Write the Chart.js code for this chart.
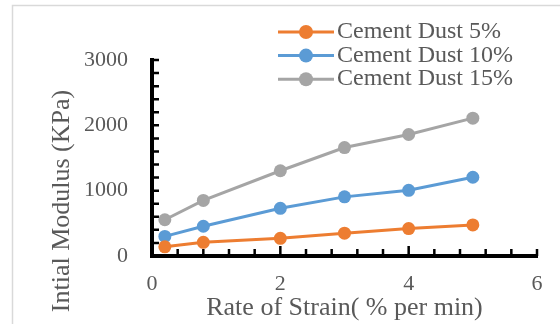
<!DOCTYPE html>
<html>
<head>
<meta charset="utf-8">
<script src="https://cdn.jsdelivr.net/npm/chart.js@4"></script>
<style>
  html, body { margin: 0; padding: 0; background: #fff; }
</style>
</head>
<body>
<canvas id="chart" width="560" height="324"></canvas>
<script>
// --- data ---
const rateOfStrain = [0.2, 0.8, 2, 3, 4, 5];
const dust5 = [140, 210, 270, 350, 420, 475];
const dust10 = [300, 455, 730, 905, 1005, 1205];
const dust15 = [555, 850, 1305, 1660, 1860, 2110];
const seriesNames = ['Cement Dust 5%', 'Cement Dust 10%', 'Cement Dust 15%'];
const seriesColors = ['#ED7D31', '#5B9BD5', '#A5A5A5'];
const xTicks = [0, 2, 4, 6];
const yTicks = [0, 1000, 2000, 3000];
const xMinorStep = 0.4;
const yMinorStep = 200;
const xTitle = 'Rate of Strain( % per min)';
const yTitle = 'Intial Modulus (KPa)';

const FONT = '"Liberation Serif", "Times New Roman", serif';
const TEXT = '#595959';

const toPoints = (ys) => ys.map((y, i) => ({ x: rateOfStrain[i], y }));

// outer light frame
const frame = {
    id: 'frame',
    beforeDraw(chart) {
        const ctx = chart.ctx;
        ctx.save();
        ctx.fillStyle = '#fff';
        ctx.fillRect(0, 0, chart.width, chart.height);
        ctx.strokeStyle = '#d9d9d9';
        ctx.lineWidth = 1.5;
        ctx.strokeRect(12.5, 5.5, chart.width, chart.height);
        ctx.restore();
    }
};

// tick marks pointing into the plot, like the Excel original
const innerTicks = {
    id: 'innerTicks',
    beforeDatasetsDraw(chart) {
        const { ctx, scales: { x, y } } = chart;
        ctx.save();
        ctx.strokeStyle = '#000';
        ctx.lineWidth = 2.5;
        ctx.beginPath();
        for (let i = 1; i * yMinorStep <= y.max; i++) {
            const py = y.getPixelForValue(i * yMinorStep);
            ctx.moveTo(x.left, py);
            ctx.lineTo(x.left + 7, py);
        }
        for (let i = 1; i * xMinorStep <= x.max + 1e-9; i++) {
            const v = i * xMinorStep;
            const px = x.getPixelForValue(v);
            const major = xTicks.some(t => Math.abs(t - v) < 1e-6) && v < x.max;
            ctx.moveTo(px, y.bottom);
            ctx.lineTo(px, y.bottom - (major ? 10 : 7));
        }
        ctx.stroke();
        ctx.restore();
    }
};

// y title sits lower than the axis centre in the reference
const yAxisTitle = {
    id: 'yAxisTitle',
    afterDraw(chart) {
        const ctx = chart.ctx;
        ctx.save();
        ctx.translate(62, 201);
        ctx.rotate(-Math.PI / 2);
        ctx.font = '26px ' + FONT;
        ctx.fillStyle = TEXT;
        ctx.textAlign = 'center';
        ctx.textBaseline = 'middle';
        ctx.fillText(yTitle, 0, 0);
        ctx.restore();
    }
};

// legend: line + marker, overlapping the top of the plot
const lineLegend = {
    id: 'lineLegend',
    afterDraw(chart) {
        const ctx = chart.ctx;
        const x0 = 278, x1 = 334, y0 = 32, gap = 23.6;
        ctx.save();
        chart.data.datasets.forEach((ds, i) => {
            const cy = y0 + i * gap;
            ctx.strokeStyle = ds.borderColor;
            ctx.lineWidth = 3;
            ctx.beginPath();
            ctx.moveTo(x0, cy);
            ctx.lineTo(x1, cy);
            ctx.stroke();
            ctx.fillStyle = ds.borderColor;
            ctx.beginPath();
            ctx.arc((x0 + x1) / 2, cy, 7, 0, Math.PI * 2);
            ctx.fill();
            ctx.font = '24px ' + FONT;
            ctx.fillStyle = TEXT;
            ctx.textAlign = 'left';
            ctx.textBaseline = 'middle';
            ctx.fillText(ds.label, x1 + 3, cy);
        });
        ctx.restore();
    }
};

const makeSet = (label, values, color) => ({
    label,
    data: toPoints(values),
    borderColor: color,
    backgroundColor: color,
    borderWidth: 3,
    pointRadius: 6.5,
    pointBorderWidth: 0,
    pointBackgroundColor: color,
    tension: 0,
    clip: false
});

new Chart(document.getElementById('chart'), {
    type: 'line',
    data: {
        datasets: [
            makeSet(seriesNames[0], dust5, seriesColors[0]),
            makeSet(seriesNames[1], dust10, seriesColors[1]),
            makeSet(seriesNames[2], dust15, seriesColors[2])
        ]
    },
    options: {
        responsive: false,
        animation: false,
        layout: { padding: { left: 0, top: 60, right: 23, bottom: 0 } },
        plugins: {
            legend: { display: false },
            tooltip: { enabled: false }
        },
        scales: {
            x: {
                type: 'linear',
                min: 0,
                max: 6,
                afterBuildTicks: (scale) => { scale.ticks = xTicks.map(v => ({ value: v })); },
                afterFit: (scale) => { scale.height = 68; },
                grid: { drawOnChartArea: false, drawTicks: false },
                border: { color: '#000', width: 4 },
                ticks: {
                    color: TEXT,
                    font: { family: FONT, size: 22 },
                    padding: 15,
                    maxRotation: 0,
                    callback: (v) => String(v)
                },
                title: {
                    display: true,
                    text: xTitle,
                    color: TEXT,
                    font: { family: FONT, size: 26 },
                    padding: 0
                }
            },
            y: {
                min: 0,
                max: 3000,
                afterBuildTicks: (scale) => { scale.ticks = yTicks.map(v => ({ value: v })); },
                afterFit: (scale) => { scale.width = 152; },
                grid: { drawOnChartArea: false, drawTicks: false },
                border: { color: '#000', width: 4 },
                ticks: {
                    color: TEXT,
                    font: { family: FONT, size: 22 },
                    padding: 24,
                    callback: (v) => String(v)
                }
            }
        }
    },
    plugins: [frame, innerTicks, yAxisTitle, lineLegend]
});
</script>
</body>
</html>
